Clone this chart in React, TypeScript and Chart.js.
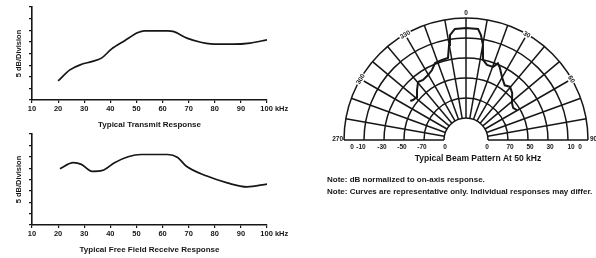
import React, { useEffect, useRef } from "react";
import { Chart, registerables } from "chart.js";
Chart.register(...registerables);

const FONT_FAMILY = "'Liberation Sans', Arial, Helvetica, sans-serif";
const INK = "#161616";

// ---- Left charts: frequency response (kHz vs divisions of 5 dB) ----
const FREQ_TICKS = [10, 20, 30, 40, 50, 60, 70, 80, 90, 100];
const LEVEL_TICKS = [0, 1, 2, 3, 4, 5, 6, 7, 8];
const TX_FREQ = [20, 24.5, 29, 32.8, 36.6, 40.4, 45.5, 50.6, 53, 62, 64, 69.6, 74.6, 78.4, 87, 93.5, 100];
const TX_LEVEL = [1.64, 2.59, 3.07, 3.3, 3.6, 4.37, 5.1, 5.8, 5.95, 5.95, 5.9, 5.3, 4.97, 4.83, 4.8, 4.9, 5.17];
const RX_FREQ = [20.7, 25.8, 28.9, 33, 37, 41.6, 46.8, 51.8, 62, 65.8, 69, 77, 84.8, 92.4, 100];
const RX_LEVEL = [4.95, 5.48, 5.33, 4.72, 4.8, 5.48, 6.0, 6.2, 6.2, 5.93, 5.19, 4.3, 3.7, 3.35, 3.6];

// ---- Right chart: beam pattern (degrees vs dB) ----
const BEAM_ANGLE = [-55, -53, -48.7, -44.4, -39.6, -35.6, -30.3, -25.9, -21.9, -16.7, -12.4, -10.1, -8.7, -5.7, 0, 6.2, 8.1, 10.1, 12, 15.6, 20.3, 22.6, 25, 29.7, 35.3, 39.7, 44.4, 51.2, 55.8, 59.5];
const BEAM_DB = [-27, -27.8, -28.4, -26, -23.4, -24.1, -23.4, -22.1, -19.5, -19.2, -19, -12.7, -8, -5.2, -5, -5.2, -8, -12.7, -20, -22, -22, -19.5, -21, -24.7, -27.5, -26.5, -28, -31.5, -32.5, -31.5];
const RING_DB = [0, -10, -20, -30, -40, -50];
const HOLE_DB = -50;
const DB_OFFSET = 61;
const SPOKE_ANGLES = [-90, -80, -70, -60, -50, -40, -30, -20, -10, 0, 10, 20, 30, 40, 50, 60, 70, 80, 90];
const ANGLE_LABELS = ["300", "330", "30", "60"];
const ANGLE_LABEL_DEG = [-60, -30, 30, 60];
const TOP_LABEL = "0";
const LEFT_END_LABEL = "270";
const RIGHT_END_LABEL = "90";
const RADIAL_LABELS_LEFT = ["0", "-10", "-30", "-50", "-70", "0"];
const RADIAL_LABELS_RIGHT = ["0", "10", "30", "50", "70", "0"];
const RADIAL_LABEL_DB = [-4, -8.5, -19, -29, -39, -50.5];
const BEAM_TITLE = "Typical Beam Pattern At 50 kHz";
const NOTES = [
  "Note: dB normalized to on-axis response.",
  "Note: Curves are representative only. Individual responses may differ.",
];

function lineConfig(xs: number[], ys: number[], title: string, padTop: number, xHeight: number, titlePadBottom: number): any {
  const font = { family: FONT_FAMILY, size: 7.5, weight: "bold" as const };
  return {
    type: "line",
    data: {
      datasets: [
        {
          data: xs.map((x, i) => ({ x, y: ys[i] })),
          borderColor: INK,
          borderWidth: 1.7,
          pointRadius: 0,
          cubicInterpolationMode: "monotone",
          fill: false,
        },
      ],
    },
    options: {
      animation: false,
      responsive: false,
      maintainAspectRatio: false,
      events: [],
      layout: { padding: { top: padTop, right: 33, left: 0, bottom: 0 } },
      plugins: { legend: { display: false }, tooltip: { enabled: false } },
      scales: {
        x: {
          type: "linear",
          min: 10,
          max: 100,
          afterBuildTicks: (s: any) => {
            s.ticks = FREQ_TICKS.map((v) => ({ value: v }));
          },
          afterFit: (s: any) => {
            s.height = xHeight;
          },
          ticks: {
            autoSkip: false,
            maxRotation: 0,
            padding: 1,
            color: INK,
            font,
            callback: (v: any) => (v === 100 ? "       100 kHz" : String(v)),
          },
          grid: { drawOnChartArea: false, tickLength: 3, color: INK, lineWidth: 1.2 },
          border: { color: INK, width: 1.6 },
          title: {
            display: true,
            text: title,
            color: INK,
            font: { family: FONT_FAMILY, size: 8, weight: "bold" },
            padding: { top: 0, bottom: titlePadBottom },
          },
        },
        y: {
          type: "linear",
          min: 0,
          max: 8,
          afterBuildTicks: (s: any) => {
            s.ticks = LEVEL_TICKS.map((v) => ({ value: v }));
          },
          afterFit: (s: any) => {
            s.width = 32;
          },
          ticks: { display: false },
          grid: { drawOnChartArea: false, tickLength: 3, color: INK, lineWidth: 1.2 },
          border: { color: INK, width: 1.6 },
          title: {
            display: true,
            text: "5 dB/Division",
            color: INK,
            font: { family: FONT_FAMILY, size: 7.5, weight: "bold" },
            padding: { top: 14.5, bottom: 0 },
          },
        },
      },
    },
  };
}

const polarPlugin = {
  id: "polarGrid",
  beforeDatasetsDraw(chart: any) {
    const { ctx, scales } = chart;
    const xs = scales.x;
    const ys = scales.y;
    const cx = xs.getPixelForValue(0);
    const cy = ys.getPixelForValue(0);
    const rp = (db: number) => xs.getPixelForValue(db + DB_OFFSET) - cx;
    ctx.save();
    ctx.strokeStyle = INK;
    ctx.lineWidth = 1.5;
    RING_DB.forEach((db) => {
      ctx.beginPath();
      ctx.arc(cx, cy, rp(db), Math.PI, 2 * Math.PI);
      ctx.stroke();
    });
    const rIn = rp(HOLE_DB);
    const rOut = rp(RING_DB[0]);
    SPOKE_ANGLES.forEach((a) => {
      const t = (a * Math.PI) / 180;
      ctx.beginPath();
      ctx.moveTo(cx + rIn * Math.sin(t), cy - rIn * Math.cos(t));
      ctx.lineTo(cx + rOut * Math.sin(t), cy - rOut * Math.cos(t));
      ctx.stroke();
    });
    ctx.restore();
  },
  afterDraw(chart: any) {
    const { ctx, scales } = chart;
    const xs = scales.x;
    const ys = scales.y;
    const cx = xs.getPixelForValue(0);
    const cy = ys.getPixelForValue(0);
    const rp = (db: number) => xs.getPixelForValue(db + DB_OFFSET) - cx;
    const rOut = rp(RING_DB[0]);
    ctx.save();
    ctx.fillStyle = INK;
    ctx.textBaseline = "middle";
    ctx.textAlign = "center";
    ctx.font = `bold 6.5px ${FONT_FAMILY}`;
    // angle labels on outer ring
    ANGLE_LABELS.forEach((lab, i) => {
      const t = (ANGLE_LABEL_DEG[i] * Math.PI) / 180;
      const px = cx + rOut * Math.sin(t);
      const py = cy - rOut * Math.cos(t);
      ctx.save();
      ctx.translate(px, py);
      ctx.rotate(t);
      const w = ctx.measureText(lab).width;
      ctx.fillStyle = "#fff";
      ctx.fillRect(-w / 2 - 1, -4, w + 2, 8);
      ctx.fillStyle = INK;
      ctx.fillText(lab, 0, 0.5);
      ctx.restore();
    });
    ctx.fillText(TOP_LABEL, cx, cy - rOut - 5);
    ctx.textAlign = "right";
    ctx.fillText(LEFT_END_LABEL, cx - rOut - 1, cy - 1);
    ctx.textAlign = "left";
    ctx.fillText(RIGHT_END_LABEL, cx + rOut + 2, cy - 1);
    // radial tick labels along the base line
    ctx.textAlign = "center";
    RADIAL_LABEL_DB.forEach((db, i) => {
      const r = rp(db);
      ctx.fillText(RADIAL_LABELS_LEFT[i], cx - r, cy + 7);
      ctx.fillText(RADIAL_LABELS_RIGHT[i], cx + r, cy + 7);
    });
    // title and notes
    ctx.font = `bold 8.5px ${FONT_FAMILY}`;
    ctx.fillText(BEAM_TITLE, cx + 12, cy + 19);
    ctx.textAlign = "left";
    ctx.font = `bold 8px ${FONT_FAMILY}`;
    NOTES.forEach((n, i) => ctx.fillText(n, 27, cy + 40 + i * 12));
    ctx.restore();
  },
};

function polarConfig(): any {
  const pts = BEAM_ANGLE.map((a, i) => {
    const t = (a * Math.PI) / 180;
    const r = BEAM_DB[i] + DB_OFFSET;
    return { x: r * Math.sin(t), y: r * Math.cos(t) };
  });
  return {
    type: "scatter",
    data: {
      datasets: [
        {
          data: pts,
          showLine: true,
          borderColor: INK,
          borderWidth: 2,
          pointRadius: 0,
          tension: 0,
          clip: false,
        },
      ],
    },
    options: {
      animation: false,
      responsive: false,
      maintainAspectRatio: false,
      events: [],
      layout: { padding: { top: 18, left: 44, right: 8, bottom: 60 } },
      plugins: { legend: { display: false }, tooltip: { enabled: false } },
      scales: {
        x: { type: "linear", min: -DB_OFFSET, max: DB_OFFSET, display: false },
        y: { type: "linear", min: 0, max: DB_OFFSET, display: false },
      },
    },
    plugins: [polarPlugin],
  };
}

function ChartCanvas({ config, left, top, width, height }: any) {
  const ref = useRef<HTMLCanvasElement | null>(null);
  useEffect(() => {
    if (!ref.current) return;
    const c = new Chart(ref.current, config());
    return () => c.destroy();
  }, []);
  return (
    <canvas
      ref={ref}
      width={width}
      height={height}
      style={{ position: "absolute", left, top, width, height }}
    />
  );
}

export default function App() {
  return (
    <div style={{ position: "fixed", left: 0, top: 0, width: 596, height: 258, background: "#fff", overflow: "hidden" }}>
      <ChartCanvas
        left={0}
        top={0}
        width={300}
        height={132}
        config={() => lineConfig(TX_FREQ, TX_LEVEL, "Typical Transmit Response", 7, 32, 2.8)}
      />
      <ChartCanvas
        left={0}
        top={132}
        width={300}
        height={126}
        config={() => lineConfig(RX_FREQ, RX_LEVEL, "Typical Free Field Receive Response", 2, 33, 3.8)}
      />
      <ChartCanvas left={300} top={0} width={296} height={200} config={polarConfig} />
    </div>
  );
}
